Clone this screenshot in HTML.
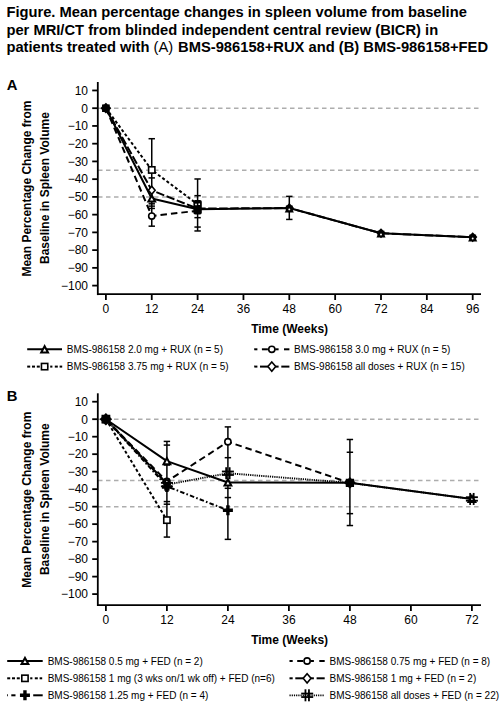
<!DOCTYPE html>
<html><head><meta charset="utf-8"><style>
html,body{margin:0;padding:0;background:#fff;}
body{width:503px;height:705px;overflow:hidden;}
svg{display:block;font-family:'Liberation Sans', sans-serif;}
</style></head><body>
<svg width="503" height="705" viewBox="0 0 503 705">
<rect width="503" height="705" fill="#fff"/>
<text x="6.40" y="16.50" font-size="14.72" font-weight="bold" text-anchor="start">Figure. Mean percentage changes in spleen volume from baseline</text>
<text x="6.40" y="34.60" font-size="14.72" font-weight="bold" text-anchor="start">per MRI/CT from blinded independent central review (BICR) in</text>
<text x="6.40" y="51.80" font-size="14.72" font-weight="bold" text-anchor="start">patients treated with <tspan font-weight="normal">(A)</tspan><tspan dx="0.7"> BMS-986158+RUX and (B) BMS-986158+FED</tspan></text>
<text x="6.70" y="89.70" font-size="14.8" font-weight="bold" text-anchor="start">A</text>
<text transform="translate(31.3,188.60) rotate(-90)" font-size="12" font-weight="bold" text-anchor="middle">Mean Percentage Change from</text>
<text transform="translate(48.6,188.10) rotate(-90)" font-size="12" font-weight="bold" text-anchor="middle">Baseline in Spleen Volume</text>
<line x1="98.00" y1="108.20" x2="478.60" y2="108.20" stroke="#adadad" stroke-width="1.5" stroke-dasharray="4.5 3.5" stroke-linecap="butt"/>
<line x1="98.00" y1="170.29" x2="478.60" y2="170.29" stroke="#adadad" stroke-width="1.5" stroke-dasharray="4.5 3.5" stroke-linecap="butt"/>
<line x1="98.00" y1="196.90" x2="478.60" y2="196.90" stroke="#adadad" stroke-width="1.5" stroke-dasharray="4.5 3.5" stroke-linecap="butt"/>
<line x1="97.80" y1="82.00" x2="97.80" y2="295.10" stroke="#000" stroke-width="1.8" stroke-linecap="butt"/>
<line x1="92.20" y1="90.46" x2="97.80" y2="90.46" stroke="#000" stroke-width="1.8" stroke-linecap="butt"/>
<text x="88.00" y="94.76" font-size="12" font-weight="normal" text-anchor="end">10</text>
<line x1="92.20" y1="108.20" x2="97.80" y2="108.20" stroke="#000" stroke-width="1.8" stroke-linecap="butt"/>
<text x="88.00" y="112.50" font-size="12" font-weight="normal" text-anchor="end">0</text>
<line x1="92.20" y1="125.94" x2="97.80" y2="125.94" stroke="#000" stroke-width="1.8" stroke-linecap="butt"/>
<text x="88.00" y="130.24" font-size="12" font-weight="normal" text-anchor="end">−10</text>
<line x1="92.20" y1="143.68" x2="97.80" y2="143.68" stroke="#000" stroke-width="1.8" stroke-linecap="butt"/>
<text x="88.00" y="147.98" font-size="12" font-weight="normal" text-anchor="end">−20</text>
<line x1="92.20" y1="161.42" x2="97.80" y2="161.42" stroke="#000" stroke-width="1.8" stroke-linecap="butt"/>
<text x="88.00" y="165.72" font-size="12" font-weight="normal" text-anchor="end">−30</text>
<line x1="92.20" y1="179.16" x2="97.80" y2="179.16" stroke="#000" stroke-width="1.8" stroke-linecap="butt"/>
<text x="88.00" y="183.46" font-size="12" font-weight="normal" text-anchor="end">−40</text>
<line x1="92.20" y1="196.90" x2="97.80" y2="196.90" stroke="#000" stroke-width="1.8" stroke-linecap="butt"/>
<text x="88.00" y="201.20" font-size="12" font-weight="normal" text-anchor="end">−50</text>
<line x1="92.20" y1="214.64" x2="97.80" y2="214.64" stroke="#000" stroke-width="1.8" stroke-linecap="butt"/>
<text x="88.00" y="218.94" font-size="12" font-weight="normal" text-anchor="end">−60</text>
<line x1="92.20" y1="232.38" x2="97.80" y2="232.38" stroke="#000" stroke-width="1.8" stroke-linecap="butt"/>
<text x="88.00" y="236.68" font-size="12" font-weight="normal" text-anchor="end">−70</text>
<line x1="92.20" y1="250.12" x2="97.80" y2="250.12" stroke="#000" stroke-width="1.8" stroke-linecap="butt"/>
<text x="88.00" y="254.42" font-size="12" font-weight="normal" text-anchor="end">−80</text>
<line x1="92.20" y1="267.86" x2="97.80" y2="267.86" stroke="#000" stroke-width="1.8" stroke-linecap="butt"/>
<text x="88.00" y="272.16" font-size="12" font-weight="normal" text-anchor="end">−90</text>
<line x1="92.20" y1="285.60" x2="97.80" y2="285.60" stroke="#000" stroke-width="1.8" stroke-linecap="butt"/>
<text x="88.00" y="289.90" font-size="12" font-weight="normal" text-anchor="end">−100</text>
<line x1="97.00" y1="294.20" x2="481.00" y2="294.20" stroke="#000" stroke-width="1.8" stroke-linecap="butt"/>
<line x1="105.90" y1="294.20" x2="105.90" y2="300.00" stroke="#000" stroke-width="1.8" stroke-linecap="butt"/>
<text x="105.90" y="312.60" font-size="12" font-weight="normal" text-anchor="middle">0</text>
<line x1="151.75" y1="294.20" x2="151.75" y2="300.00" stroke="#000" stroke-width="1.8" stroke-linecap="butt"/>
<text x="151.75" y="312.60" font-size="12" font-weight="normal" text-anchor="middle">12</text>
<line x1="197.60" y1="294.20" x2="197.60" y2="300.00" stroke="#000" stroke-width="1.8" stroke-linecap="butt"/>
<text x="197.60" y="312.60" font-size="12" font-weight="normal" text-anchor="middle">24</text>
<line x1="243.45" y1="294.20" x2="243.45" y2="300.00" stroke="#000" stroke-width="1.8" stroke-linecap="butt"/>
<text x="243.45" y="312.60" font-size="12" font-weight="normal" text-anchor="middle">36</text>
<line x1="289.30" y1="294.20" x2="289.30" y2="300.00" stroke="#000" stroke-width="1.8" stroke-linecap="butt"/>
<text x="289.30" y="312.60" font-size="12" font-weight="normal" text-anchor="middle">48</text>
<line x1="335.15" y1="294.20" x2="335.15" y2="300.00" stroke="#000" stroke-width="1.8" stroke-linecap="butt"/>
<text x="335.15" y="312.60" font-size="12" font-weight="normal" text-anchor="middle">60</text>
<line x1="381.00" y1="294.20" x2="381.00" y2="300.00" stroke="#000" stroke-width="1.8" stroke-linecap="butt"/>
<text x="381.00" y="312.60" font-size="12" font-weight="normal" text-anchor="middle">72</text>
<line x1="426.85" y1="294.20" x2="426.85" y2="300.00" stroke="#000" stroke-width="1.8" stroke-linecap="butt"/>
<text x="426.85" y="312.60" font-size="12" font-weight="normal" text-anchor="middle">84</text>
<line x1="472.70" y1="294.20" x2="472.70" y2="300.00" stroke="#000" stroke-width="1.8" stroke-linecap="butt"/>
<text x="472.70" y="312.60" font-size="12" font-weight="normal" text-anchor="middle">96</text>
<text x="289.60" y="333.10" font-size="12" font-weight="bold" text-anchor="middle">Time (Weeks)</text>
<line x1="151.75" y1="138.71" x2="151.75" y2="226.17" stroke="#000" stroke-width="1.5" stroke-linecap="butt"/>
<line x1="148.55" y1="138.71" x2="154.95" y2="138.71" stroke="#000" stroke-width="1.5" stroke-linecap="butt"/>
<line x1="148.55" y1="226.17" x2="154.95" y2="226.17" stroke="#000" stroke-width="1.5" stroke-linecap="butt"/>
<line x1="148.55" y1="177.92" x2="154.95" y2="177.92" stroke="#000" stroke-width="1.5" stroke-linecap="butt"/>
<line x1="148.55" y1="201.51" x2="154.95" y2="201.51" stroke="#000" stroke-width="1.5" stroke-linecap="butt"/>
<line x1="148.55" y1="203.82" x2="154.95" y2="203.82" stroke="#000" stroke-width="1.5" stroke-linecap="butt"/>
<line x1="148.55" y1="206.12" x2="154.95" y2="206.12" stroke="#000" stroke-width="1.5" stroke-linecap="butt"/>
<line x1="148.55" y1="208.43" x2="154.95" y2="208.43" stroke="#000" stroke-width="1.5" stroke-linecap="butt"/>
<line x1="197.60" y1="178.98" x2="197.60" y2="230.96" stroke="#000" stroke-width="1.5" stroke-linecap="butt"/>
<line x1="194.40" y1="178.98" x2="200.80" y2="178.98" stroke="#000" stroke-width="1.5" stroke-linecap="butt"/>
<line x1="194.40" y1="230.96" x2="200.80" y2="230.96" stroke="#000" stroke-width="1.5" stroke-linecap="butt"/>
<line x1="194.40" y1="195.66" x2="200.80" y2="195.66" stroke="#000" stroke-width="1.5" stroke-linecap="butt"/>
<line x1="194.40" y1="217.66" x2="200.80" y2="217.66" stroke="#000" stroke-width="1.5" stroke-linecap="butt"/>
<line x1="194.40" y1="227.06" x2="200.80" y2="227.06" stroke="#000" stroke-width="1.5" stroke-linecap="butt"/>
<line x1="289.30" y1="196.37" x2="289.30" y2="219.43" stroke="#000" stroke-width="1.5" stroke-linecap="butt"/>
<line x1="286.10" y1="196.37" x2="292.50" y2="196.37" stroke="#000" stroke-width="1.5" stroke-linecap="butt"/>
<line x1="286.10" y1="219.43" x2="292.50" y2="219.43" stroke="#000" stroke-width="1.5" stroke-linecap="butt"/>
<polyline points="105.90,108.20 151.75,169.94 197.60,204.35" fill="none" stroke="#000" stroke-width="2.0" stroke-dasharray="3 2.3" stroke-linejoin="round"/>
<polyline points="105.90,108.20 151.75,216.06 197.60,210.74" fill="none" stroke="#000" stroke-width="2.0" stroke-dasharray="6.5 4" stroke-linejoin="round"/>
<polyline points="105.90,108.20 151.75,190.34 197.60,208.61 289.30,208.08 381.00,233.27 472.70,237.17" fill="none" stroke="#000" stroke-width="2.0" stroke-dasharray="8.5 2.5" stroke-linejoin="round"/>
<polyline points="105.90,108.20 151.75,198.50 197.60,209.32 289.30,208.08 381.00,233.27 472.70,237.17" fill="none" stroke="#000" stroke-width="2.0" stroke-linejoin="round"/>
<rect x="148.60" y="166.79" width="6.30" height="6.30" fill="#fff" stroke="#000" stroke-width="1.6"/>
<polygon points="151.75,186.29 155.15,190.34 151.75,194.38 148.35,190.34" fill="#fff" stroke="#000" stroke-width="1.6"/>
<polygon points="151.75,195.40 148.35,201.60 155.15,201.60" fill="#fff" stroke="#000" stroke-width="2.0" stroke-linejoin="miter"/>
<circle cx="151.75" cy="216.06" r="3.10" fill="#fff" stroke="#000" stroke-width="1.6"/>
<rect x="193.40" y="200.0" width="8.4" height="14.6" rx="1.8" fill="#000"/>
<circle cx="196.00" cy="204.4" r="0.9" fill="#fff"/><circle cx="199.20" cy="204.2" r="0.9" fill="#fff"/>
<polygon points="289.30,203.08 294.00,207.88 289.30,213.08 284.60,207.88" fill="#000"/>
<polygon points="289.30,203.88 293.90,212.38 284.70,212.38" fill="#000"/>
<rect x="285.90" y="205.48" width="6.80" height="5.60" fill="#000"/>
<circle cx="289.30" cy="209.38" r="0.95" fill="#fff"/>
<polygon points="381.00,228.27 385.70,233.07 381.00,238.27 376.30,233.07" fill="#000"/>
<polygon points="381.00,229.07 385.60,237.57 376.40,237.57" fill="#000"/>
<rect x="377.60" y="230.67" width="6.80" height="5.60" fill="#000"/>
<circle cx="381.00" cy="234.57" r="0.95" fill="#fff"/>
<polygon points="472.70,232.17 477.40,236.97 472.70,242.17 468.00,236.97" fill="#000"/>
<polygon points="472.70,232.97 477.30,241.47 468.10,241.47" fill="#000"/>
<rect x="469.30" y="234.57" width="6.80" height="5.60" fill="#000"/>
<circle cx="472.70" cy="238.47" r="0.95" fill="#fff"/>
<polygon points="111.30,108.20 109.79,109.81 109.72,112.02 107.51,112.09 105.90,113.60 104.29,112.09 102.08,112.02 102.01,109.81 100.50,108.20 102.01,106.59 102.08,104.38 104.29,104.31 105.90,102.80 107.51,104.31 109.72,104.38 109.79,106.59" fill="#000"/>
<line x1="27.20" y1="349.30" x2="62.00" y2="349.30" stroke="#000" stroke-width="2.0" stroke-linecap="butt"/>
<polygon points="44.60,346.20 41.20,352.40 48.00,352.40" fill="#fff" stroke="#000" stroke-width="2.0" stroke-linejoin="miter"/>
<text x="66.80" y="352.90" font-size="10" font-weight="normal" text-anchor="start">BMS-986158 2.0 mg + RUX (n = 5)</text>
<line x1="27.20" y1="366.60" x2="30.20" y2="366.60" stroke="#000" stroke-width="2.0" stroke-linecap="butt"/>
<line x1="32.00" y1="366.60" x2="35.00" y2="366.60" stroke="#000" stroke-width="2.0" stroke-linecap="butt"/>
<line x1="36.80" y1="366.60" x2="39.80" y2="366.60" stroke="#000" stroke-width="2.0" stroke-linecap="butt"/>
<line x1="41.60" y1="366.60" x2="48.20" y2="366.60" stroke="#000" stroke-width="2.0" stroke-linecap="butt"/>
<line x1="50.20" y1="366.60" x2="52.40" y2="366.60" stroke="#000" stroke-width="2.0" stroke-linecap="butt"/>
<line x1="54.80" y1="366.60" x2="57.80" y2="366.60" stroke="#000" stroke-width="2.0" stroke-linecap="butt"/>
<line x1="59.60" y1="366.60" x2="62.20" y2="366.60" stroke="#000" stroke-width="2.0" stroke-linecap="butt"/>
<rect x="41.45" y="363.45" width="6.30" height="6.30" fill="#fff" stroke="#000" stroke-width="1.6"/>
<text x="66.80" y="370.20" font-size="10" font-weight="normal" text-anchor="start">BMS-986158 3.75 mg + RUX (n = 5)</text>
<line x1="254.20" y1="349.30" x2="257.40" y2="349.30" stroke="#000" stroke-width="2.0" stroke-linecap="butt"/>
<line x1="261.90" y1="349.30" x2="267.90" y2="349.30" stroke="#000" stroke-width="2.0" stroke-linecap="butt"/>
<line x1="275.20" y1="349.30" x2="278.60" y2="349.30" stroke="#000" stroke-width="2.0" stroke-linecap="butt"/>
<line x1="284.00" y1="349.30" x2="289.40" y2="349.30" stroke="#000" stroke-width="2.0" stroke-linecap="butt"/>
<circle cx="271.80" cy="349.30" r="3.10" fill="#fff" stroke="#000" stroke-width="1.6"/>
<text x="294.10" y="352.90" font-size="10" font-weight="normal" text-anchor="start">BMS-986158 3.0 mg + RUX (n = 5)</text>
<line x1="254.20" y1="366.60" x2="257.40" y2="366.60" stroke="#000" stroke-width="2.0" stroke-linecap="butt"/>
<line x1="260.00" y1="366.60" x2="268.00" y2="366.60" stroke="#000" stroke-width="2.0" stroke-linecap="butt"/>
<line x1="275.60" y1="366.60" x2="278.60" y2="366.60" stroke="#000" stroke-width="2.0" stroke-linecap="butt"/>
<line x1="281.30" y1="366.60" x2="289.40" y2="366.60" stroke="#000" stroke-width="2.0" stroke-linecap="butt"/>
<polygon points="271.80,361.94 275.72,366.60 271.80,371.26 267.88,366.60" fill="#fff" stroke="#000" stroke-width="1.6"/>
<text x="294.10" y="370.20" font-size="10" font-weight="normal" text-anchor="start">BMS-986158 all doses + RUX (n = 15)</text>
<text x="6.70" y="400.60" font-size="14.8" font-weight="bold" text-anchor="start">B</text>
<text transform="translate(31.3,499.70) rotate(-90)" font-size="12" font-weight="bold" text-anchor="middle">Mean Percentage Change from</text>
<text transform="translate(48.6,499.20) rotate(-90)" font-size="12" font-weight="bold" text-anchor="middle">Baseline in Spleen Volume</text>
<line x1="98.00" y1="419.20" x2="478.60" y2="419.20" stroke="#adadad" stroke-width="1.5" stroke-dasharray="4.5 3.5" stroke-linecap="butt"/>
<line x1="98.00" y1="480.41" x2="478.60" y2="480.41" stroke="#adadad" stroke-width="1.5" stroke-dasharray="4.5 3.5" stroke-linecap="butt"/>
<line x1="98.00" y1="506.65" x2="478.60" y2="506.65" stroke="#adadad" stroke-width="1.5" stroke-dasharray="4.5 3.5" stroke-linecap="butt"/>
<line x1="97.80" y1="393.30" x2="97.80" y2="606.00" stroke="#000" stroke-width="1.8" stroke-linecap="butt"/>
<line x1="92.20" y1="401.71" x2="97.80" y2="401.71" stroke="#000" stroke-width="1.8" stroke-linecap="butt"/>
<text x="88.00" y="406.01" font-size="12" font-weight="normal" text-anchor="end">10</text>
<line x1="92.20" y1="419.20" x2="97.80" y2="419.20" stroke="#000" stroke-width="1.8" stroke-linecap="butt"/>
<text x="88.00" y="423.50" font-size="12" font-weight="normal" text-anchor="end">0</text>
<line x1="92.20" y1="436.69" x2="97.80" y2="436.69" stroke="#000" stroke-width="1.8" stroke-linecap="butt"/>
<text x="88.00" y="440.99" font-size="12" font-weight="normal" text-anchor="end">−10</text>
<line x1="92.20" y1="454.18" x2="97.80" y2="454.18" stroke="#000" stroke-width="1.8" stroke-linecap="butt"/>
<text x="88.00" y="458.48" font-size="12" font-weight="normal" text-anchor="end">−20</text>
<line x1="92.20" y1="471.67" x2="97.80" y2="471.67" stroke="#000" stroke-width="1.8" stroke-linecap="butt"/>
<text x="88.00" y="475.97" font-size="12" font-weight="normal" text-anchor="end">−30</text>
<line x1="92.20" y1="489.16" x2="97.80" y2="489.16" stroke="#000" stroke-width="1.8" stroke-linecap="butt"/>
<text x="88.00" y="493.46" font-size="12" font-weight="normal" text-anchor="end">−40</text>
<line x1="92.20" y1="506.65" x2="97.80" y2="506.65" stroke="#000" stroke-width="1.8" stroke-linecap="butt"/>
<text x="88.00" y="510.95" font-size="12" font-weight="normal" text-anchor="end">−50</text>
<line x1="92.20" y1="524.14" x2="97.80" y2="524.14" stroke="#000" stroke-width="1.8" stroke-linecap="butt"/>
<text x="88.00" y="528.44" font-size="12" font-weight="normal" text-anchor="end">−60</text>
<line x1="92.20" y1="541.63" x2="97.80" y2="541.63" stroke="#000" stroke-width="1.8" stroke-linecap="butt"/>
<text x="88.00" y="545.93" font-size="12" font-weight="normal" text-anchor="end">−70</text>
<line x1="92.20" y1="559.12" x2="97.80" y2="559.12" stroke="#000" stroke-width="1.8" stroke-linecap="butt"/>
<text x="88.00" y="563.42" font-size="12" font-weight="normal" text-anchor="end">−80</text>
<line x1="92.20" y1="576.61" x2="97.80" y2="576.61" stroke="#000" stroke-width="1.8" stroke-linecap="butt"/>
<text x="88.00" y="580.91" font-size="12" font-weight="normal" text-anchor="end">−90</text>
<line x1="92.20" y1="594.10" x2="97.80" y2="594.10" stroke="#000" stroke-width="1.8" stroke-linecap="butt"/>
<text x="88.00" y="598.40" font-size="12" font-weight="normal" text-anchor="end">−100</text>
<line x1="97.00" y1="605.10" x2="481.00" y2="605.10" stroke="#000" stroke-width="1.8" stroke-linecap="butt"/>
<line x1="105.90" y1="605.10" x2="105.90" y2="610.90" stroke="#000" stroke-width="1.8" stroke-linecap="butt"/>
<text x="105.90" y="623.80" font-size="12" font-weight="normal" text-anchor="middle">0</text>
<line x1="166.90" y1="605.10" x2="166.90" y2="610.90" stroke="#000" stroke-width="1.8" stroke-linecap="butt"/>
<text x="166.90" y="623.80" font-size="12" font-weight="normal" text-anchor="middle">12</text>
<line x1="227.90" y1="605.10" x2="227.90" y2="610.90" stroke="#000" stroke-width="1.8" stroke-linecap="butt"/>
<text x="227.90" y="623.80" font-size="12" font-weight="normal" text-anchor="middle">24</text>
<line x1="288.90" y1="605.10" x2="288.90" y2="610.90" stroke="#000" stroke-width="1.8" stroke-linecap="butt"/>
<text x="288.90" y="623.80" font-size="12" font-weight="normal" text-anchor="middle">36</text>
<line x1="349.90" y1="605.10" x2="349.90" y2="610.90" stroke="#000" stroke-width="1.8" stroke-linecap="butt"/>
<text x="349.90" y="623.80" font-size="12" font-weight="normal" text-anchor="middle">48</text>
<line x1="410.90" y1="605.10" x2="410.90" y2="610.90" stroke="#000" stroke-width="1.8" stroke-linecap="butt"/>
<text x="410.90" y="623.80" font-size="12" font-weight="normal" text-anchor="middle">60</text>
<line x1="471.90" y1="605.10" x2="471.90" y2="610.90" stroke="#000" stroke-width="1.8" stroke-linecap="butt"/>
<text x="471.90" y="623.80" font-size="12" font-weight="normal" text-anchor="middle">72</text>
<text x="289.60" y="644.20" font-size="12" font-weight="bold" text-anchor="middle">Time (Weeks)</text>
<line x1="166.90" y1="441.41" x2="166.90" y2="537.08" stroke="#000" stroke-width="1.5" stroke-linecap="butt"/>
<line x1="163.70" y1="441.41" x2="170.10" y2="441.41" stroke="#000" stroke-width="1.5" stroke-linecap="butt"/>
<line x1="163.70" y1="537.08" x2="170.10" y2="537.08" stroke="#000" stroke-width="1.5" stroke-linecap="butt"/>
<line x1="163.70" y1="445.09" x2="170.10" y2="445.09" stroke="#000" stroke-width="1.5" stroke-linecap="butt"/>
<line x1="163.70" y1="465.02" x2="170.10" y2="465.02" stroke="#000" stroke-width="1.5" stroke-linecap="butt"/>
<line x1="163.70" y1="501.58" x2="170.10" y2="501.58" stroke="#000" stroke-width="1.5" stroke-linecap="butt"/>
<line x1="163.70" y1="504.20" x2="170.10" y2="504.20" stroke="#000" stroke-width="1.5" stroke-linecap="butt"/>
<line x1="227.90" y1="426.90" x2="227.90" y2="539.36" stroke="#000" stroke-width="1.5" stroke-linecap="butt"/>
<line x1="224.70" y1="426.90" x2="231.10" y2="426.90" stroke="#000" stroke-width="1.5" stroke-linecap="butt"/>
<line x1="224.70" y1="539.36" x2="231.10" y2="539.36" stroke="#000" stroke-width="1.5" stroke-linecap="butt"/>
<line x1="224.70" y1="457.68" x2="231.10" y2="457.68" stroke="#000" stroke-width="1.5" stroke-linecap="butt"/>
<line x1="224.70" y1="497.56" x2="231.10" y2="497.56" stroke="#000" stroke-width="1.5" stroke-linecap="butt"/>
<line x1="224.70" y1="484.96" x2="231.10" y2="484.96" stroke="#000" stroke-width="1.5" stroke-linecap="butt"/>
<line x1="224.70" y1="488.29" x2="231.10" y2="488.29" stroke="#000" stroke-width="1.5" stroke-linecap="butt"/>
<line x1="349.90" y1="439.49" x2="349.90" y2="525.54" stroke="#000" stroke-width="1.5" stroke-linecap="butt"/>
<line x1="346.70" y1="439.49" x2="353.10" y2="439.49" stroke="#000" stroke-width="1.5" stroke-linecap="butt"/>
<line x1="346.70" y1="525.54" x2="353.10" y2="525.54" stroke="#000" stroke-width="1.5" stroke-linecap="butt"/>
<line x1="346.70" y1="452.26" x2="353.10" y2="452.26" stroke="#000" stroke-width="1.5" stroke-linecap="butt"/>
<line x1="346.70" y1="513.65" x2="353.10" y2="513.65" stroke="#000" stroke-width="1.5" stroke-linecap="butt"/>
<polyline points="105.90,419.20 166.90,520.12" fill="none" stroke="#000" stroke-width="2.0" stroke-dasharray="3 2.3" stroke-linejoin="round"/>
<polyline points="105.90,419.20 166.90,481.46 227.90,441.76 349.90,482.86" fill="none" stroke="#000" stroke-width="2.0" stroke-dasharray="6.5 4" stroke-linejoin="round"/>
<polyline points="105.90,419.20 166.90,483.56" fill="none" stroke="#000" stroke-width="2.0" stroke-dasharray="8.5 2.5" stroke-linejoin="round"/>
<polyline points="105.90,419.20 166.90,486.36 227.90,510.32" fill="none" stroke="#000" stroke-width="2.0" stroke-dasharray="4.5 2.2 1.6 2.2" stroke-linejoin="round"/>
<polyline points="105.90,419.20 166.90,484.61 227.90,473.24 349.90,482.86 471.90,498.95" fill="none" stroke="#000" stroke-width="1.9" stroke-dasharray="1.2 1.0" stroke-linejoin="round"/>
<polyline points="105.90,419.20 166.90,461.18 227.90,482.51 349.90,482.86 471.90,498.95" fill="none" stroke="#000" stroke-width="2.0" stroke-linejoin="round"/>
<polygon points="166.90,458.08 163.50,464.28 170.30,464.28" fill="#fff" stroke="#000" stroke-width="2.0" stroke-linejoin="miter"/>
<rect x="163.75" y="516.97" width="6.30" height="6.30" fill="#fff" stroke="#000" stroke-width="1.6"/>
<circle cx="166.90" cy="481.46" r="3.10" fill="#fff" stroke="#000" stroke-width="1.6"/>
<polygon points="166.90,479.52 170.30,483.56 166.90,487.61 163.50,483.56" fill="#fff" stroke="#000" stroke-width="1.6"/>
<rect x="164.25" y="478.61" width="1.80" height="12.00" fill="#000"/>
<rect x="167.75" y="478.61" width="1.80" height="12.00" fill="#000"/>
<rect x="160.90" y="481.96" width="12.00" height="1.80" fill="#000"/>
<rect x="160.90" y="485.46" width="12.00" height="1.80" fill="#000"/>
<path d="M165.20,482.06h3.40v3.30h3.30v3.40h-3.30v3.30h-3.40v-3.30h-3.30v-3.40h3.30z" fill="#000"/>
<circle cx="227.90" cy="441.76" r="3.10" fill="#fff" stroke="#000" stroke-width="1.6"/>
<rect x="225.25" y="467.24" width="1.80" height="12.00" fill="#000"/>
<rect x="228.75" y="467.24" width="1.80" height="12.00" fill="#000"/>
<rect x="221.90" y="470.59" width="12.00" height="1.80" fill="#000"/>
<rect x="221.90" y="474.09" width="12.00" height="1.80" fill="#000"/>
<polygon points="227.90,479.41 224.50,485.61 231.30,485.61" fill="#fff" stroke="#000" stroke-width="2.0" stroke-linejoin="miter"/>
<path d="M226.20,505.32h3.40v3.30h3.30v3.40h-3.30v3.30h-3.40v-3.30h-3.30v-3.40h3.30z" fill="#000"/>
<polygon points="355.73,482.86 354.10,484.60 354.02,486.99 351.64,487.07 349.90,488.70 348.16,487.07 345.78,486.99 345.70,484.60 344.07,482.86 345.70,481.12 345.78,478.74 348.16,478.66 349.90,477.03 351.64,478.66 354.02,478.74 354.10,481.12" fill="#000"/>
<polygon points="471.90,495.85 468.50,502.05 475.30,502.05" fill="#fff" stroke="#000" stroke-width="2.0" stroke-linejoin="miter"/>
<rect x="469.25" y="492.95" width="1.80" height="12.00" fill="#000"/>
<rect x="472.75" y="492.95" width="1.80" height="12.00" fill="#000"/>
<rect x="465.90" y="496.30" width="12.00" height="1.80" fill="#000"/>
<rect x="465.90" y="499.80" width="12.00" height="1.80" fill="#000"/>
<polygon points="112.11,419.20 110.38,421.05 110.29,423.59 107.75,423.68 105.90,425.41 104.05,423.68 101.51,423.59 101.42,421.05 99.69,419.20 101.42,417.35 101.51,414.81 104.05,414.72 105.90,412.99 107.75,414.72 110.29,414.81 110.38,417.35" fill="#000"/>
<line x1="7.20" y1="661.00" x2="42.70" y2="661.00" stroke="#000" stroke-width="2.0" stroke-linecap="butt"/>
<polygon points="24.95,657.90 21.55,664.10 28.35,664.10" fill="#fff" stroke="#000" stroke-width="2.0" stroke-linejoin="miter"/>
<text x="47.70" y="664.60" font-size="10" font-weight="normal" text-anchor="start">BMS-986158 0.5 mg + FED (n = 2)</text>
<line x1="7.20" y1="678.30" x2="10.20" y2="678.30" stroke="#000" stroke-width="2.0" stroke-linecap="butt"/>
<line x1="12.00" y1="678.30" x2="15.00" y2="678.30" stroke="#000" stroke-width="2.0" stroke-linecap="butt"/>
<line x1="16.80" y1="678.30" x2="19.80" y2="678.30" stroke="#000" stroke-width="2.0" stroke-linecap="butt"/>
<line x1="21.60" y1="678.30" x2="28.20" y2="678.30" stroke="#000" stroke-width="2.0" stroke-linecap="butt"/>
<line x1="30.20" y1="678.30" x2="32.40" y2="678.30" stroke="#000" stroke-width="2.0" stroke-linecap="butt"/>
<line x1="34.80" y1="678.30" x2="37.80" y2="678.30" stroke="#000" stroke-width="2.0" stroke-linecap="butt"/>
<line x1="39.60" y1="678.30" x2="42.20" y2="678.30" stroke="#000" stroke-width="2.0" stroke-linecap="butt"/>
<rect x="21.80" y="675.15" width="6.30" height="6.30" fill="#fff" stroke="#000" stroke-width="1.6"/>
<text x="47.70" y="681.90" font-size="10" font-weight="normal" text-anchor="start">BMS-986158 1 mg (3 wks on/1 wk off) + FED (n=6)</text>
<line x1="7.20" y1="695.30" x2="8.00" y2="695.30" stroke="#000" stroke-width="2.0" stroke-linecap="butt"/>
<line x1="11.30" y1="695.30" x2="15.50" y2="695.30" stroke="#000" stroke-width="2.0" stroke-linecap="butt"/>
<line x1="33.20" y1="695.30" x2="42.70" y2="695.30" stroke="#000" stroke-width="2.0" stroke-linecap="butt"/>
<path d="M23.25,690.30h3.40v3.30h3.30v3.40h-3.30v3.30h-3.40v-3.30h-3.30v-3.40h3.30z" fill="#000"/>
<text x="47.70" y="698.90" font-size="10" font-weight="normal" text-anchor="start">BMS-986158 1.25 mg + FED (n = 4)</text>
<line x1="289.50" y1="661.00" x2="292.70" y2="661.00" stroke="#000" stroke-width="2.0" stroke-linecap="butt"/>
<line x1="297.20" y1="661.00" x2="303.20" y2="661.00" stroke="#000" stroke-width="2.0" stroke-linecap="butt"/>
<line x1="310.50" y1="661.00" x2="313.90" y2="661.00" stroke="#000" stroke-width="2.0" stroke-linecap="butt"/>
<line x1="319.30" y1="661.00" x2="324.70" y2="661.00" stroke="#000" stroke-width="2.0" stroke-linecap="butt"/>
<circle cx="307.10" cy="661.00" r="3.10" fill="#fff" stroke="#000" stroke-width="1.6"/>
<text x="329.50" y="664.60" font-size="10" font-weight="normal" text-anchor="start">BMS-986158 0.75 mg + FED (n = 8)</text>
<line x1="289.50" y1="678.30" x2="292.70" y2="678.30" stroke="#000" stroke-width="2.0" stroke-linecap="butt"/>
<line x1="295.30" y1="678.30" x2="303.30" y2="678.30" stroke="#000" stroke-width="2.0" stroke-linecap="butt"/>
<line x1="310.90" y1="678.30" x2="313.90" y2="678.30" stroke="#000" stroke-width="2.0" stroke-linecap="butt"/>
<line x1="316.60" y1="678.30" x2="324.70" y2="678.30" stroke="#000" stroke-width="2.0" stroke-linecap="butt"/>
<polygon points="307.10,673.64 311.02,678.30 307.10,682.96 303.18,678.30" fill="#fff" stroke="#000" stroke-width="1.6"/>
<text x="329.50" y="681.90" font-size="10" font-weight="normal" text-anchor="start">BMS-986158 1 mg + FED (n = 2)</text>
<line x1="289.50" y1="695.30" x2="324.70" y2="695.30" stroke="#000" stroke-width="1.8" stroke-dasharray="1.2 1.0" stroke-linecap="butt"/>
<rect x="304.55" y="689.30" width="1.80" height="12.00" fill="#000"/>
<rect x="308.05" y="689.30" width="1.80" height="12.00" fill="#000"/>
<rect x="301.20" y="692.65" width="12.00" height="1.80" fill="#000"/>
<rect x="301.20" y="696.15" width="12.00" height="1.80" fill="#000"/>
<text x="329.50" y="698.90" font-size="10" font-weight="normal" text-anchor="start">BMS-986158 all doses + FED (n = 22)</text>
</svg>
</body></html>
